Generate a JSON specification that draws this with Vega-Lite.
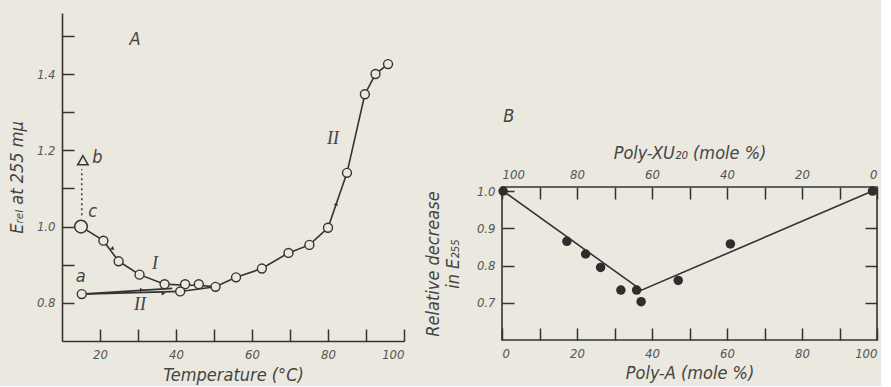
{
  "$schema": "https://vega.github.io/schema/vega-lite/v6.json",
  "background": "#eae8df",
  "padding": {"left": 8, "top": 13, "right": 2, "bottom": 2},
  "spacing": 18,
  "config": {
    "view": {"stroke": null},
    "font": "DejaVu Sans Condensed, Liberation Sans Narrow, DejaVu Sans",
    "axis": {
      "grid": false,
      "labelFontStyle": "italic",
      "titleFontStyle": "italic",
      "titleFontWeight": "normal",
      "labelColor": "#555555",
      "titleColor": "#444444",
      "domainColor": "#333333",
      "tickColor": "#333333",
      "domainWidth": 1.6,
      "tickWidth": 1.5,
      "tickSize": -12,
      "labelFontSize": 13,
      "titleFontSize": 18,
      "labelPadding": 20
    },
    "text": {"fontStyle": "italic", "color": "#444444"}
  },
  "hconcat": [
    {
      "width": 342,
      "height": 328,
      "encoding": {
        "x": {"field": "t", "type": "quantitative",
          "scale": {"domain": [10, 100], "nice": false, "zero": false},
          "axis": {"title": "Temperature (°C)", "values": [20, 30, 40, 50, 60, 70, 80, 90, 100],
            "labelExpr": "datum.value % 20 == 0 ? datum.label : ''", "labelPadding": 19, "titlePadding": 5}},
        "y": {"field": "e", "type": "quantitative",
          "scale": {"domain": [0.7, 1.56], "nice": false, "zero": false},
          "axis": {"title": "Eᵣₑₗ at 255 mμ", "values": [0.8, 0.9, 1.0, 1.1, 1.2, 1.3, 1.4, 1.5], "format": ".1f",
            "labelExpr": "indexof(['0.8','1.0','1.2','1.4'], datum.label) >= 0 ? datum.label : ''", "labelPadding": 19, "titlePadding": 10}}
      },
      "layer": [
        {
          "data": {"values": [
            {"s": "I", "k": 1, "t": 15.0, "e": 1.0},
            {"s": "I", "k": 2, "t": 20.9, "e": 0.963},
            {"s": "I", "k": 3, "t": 24.9, "e": 0.909},
            {"s": "I", "k": 4, "t": 30.4, "e": 0.874},
            {"s": "I", "k": 5, "t": 37.0, "e": 0.849},
            {"s": "I", "k": 6, "t": 42.4, "e": 0.846},
            {"s": "I", "k": 7, "t": 46.0, "e": 0.846},
            {"s": "I", "k": 8, "t": 50.4, "e": 0.842},
            {"s": "II", "k": 1, "t": 15.2, "e": 0.823},
            {"s": "II", "k": 2, "t": 41.1, "e": 0.830},
            {"s": "II", "k": 3, "t": 50.4, "e": 0.842},
            {"s": "II", "k": 4, "t": 55.8, "e": 0.867},
            {"s": "II", "k": 5, "t": 62.6, "e": 0.890},
            {"s": "II", "k": 6, "t": 69.6, "e": 0.931},
            {"s": "II", "k": 7, "t": 75.1, "e": 0.952},
            {"s": "II", "k": 8, "t": 80.0, "e": 0.997},
            {"s": "II", "k": 9, "t": 85.0, "e": 1.141},
            {"s": "II", "k": 10, "t": 89.7, "e": 1.347},
            {"s": "II", "k": 11, "t": 92.5, "e": 1.400},
            {"s": "II", "k": 12, "t": 95.8, "e": 1.426},
            {"s": "IIb", "k": 1, "t": 15.2, "e": 0.823},
            {"s": "IIb", "k": 2, "t": 39.0, "e": 0.838}
          ]},
          "mark": {"type": "line", "color": "#333333", "strokeWidth": 1.6},
          "encoding": {"detail": {"field": "s"}, "order": {"field": "k", "type": "quantitative"}}
        },
        {
          "data": {"values": [{"t": 15.2, "e": 1.03, "e2": 1.15}]},
          "mark": {"type": "rule", "color": "#444444", "strokeWidth": 1.6, "strokeDash": [2, 3]},
          "encoding": {"y2": {"field": "e2"}}
        },
        {
          "data": {"values": [
            {"t": 20.9, "e": 0.963}, {"t": 24.9, "e": 0.909}, {"t": 30.4, "e": 0.874},
            {"t": 37.0, "e": 0.849}, {"t": 42.4, "e": 0.849}, {"t": 46.0, "e": 0.849},
            {"t": 15.2, "e": 0.823}, {"t": 41.1, "e": 0.830}, {"t": 50.4, "e": 0.842},
            {"t": 55.8, "e": 0.867}, {"t": 62.6, "e": 0.890}, {"t": 69.6, "e": 0.931},
            {"t": 75.1, "e": 0.952}, {"t": 80.0, "e": 0.997}, {"t": 85.0, "e": 1.141},
            {"t": 89.7, "e": 1.347}, {"t": 92.5, "e": 1.400}, {"t": 95.8, "e": 1.426}
          ]},
          "mark": {"type": "point", "shape": "circle", "filled": true, "fill": "#eae8df", "stroke": "#333333", "strokeWidth": 1.4, "size": 80, "opacity": 1}
        },
        {
          "data": {"values": [{"t": 15.0, "e": 1.0}]},
          "mark": {"type": "point", "shape": "circle", "filled": true, "fill": "#eae8df", "stroke": "#333333", "strokeWidth": 1.5, "size": 160, "opacity": 1}
        },
        {
          "data": {"values": [{"t": 15.5, "e": 1.174}]},
          "mark": {"type": "point", "shape": "triangle-up", "filled": false, "stroke": "#333333", "strokeWidth": 1.5, "size": 110, "opacity": 1}
        },
        {
          "data": {"values": [{"t": 23.4, "e": 0.942}]},
          "mark": {"type": "point", "shape": "triangle-up", "filled": true, "color": "#333333", "size": 18, "angle": 130, "opacity": 1}
        },
        {
          "data": {"values": [{"t": 31.0, "e": 0.834}, {"t": 36.7, "e": 0.825}]},
          "mark": {"type": "point", "shape": "triangle-up", "filled": true, "color": "#333333", "size": 18, "angle": 90, "opacity": 1}
        },
        {
          "data": {"values": [{"t": 82.2, "e": 1.06}]},
          "mark": {"type": "point", "shape": "triangle-up", "filled": true, "color": "#333333", "size": 18, "angle": 15, "opacity": 1}
        },
        {
          "data": {"values": [
            {"t": 29.2, "e": 1.49, "label": "A"},
            {"t": 19.3, "e": 1.18, "label": "b"},
            {"t": 18.1, "e": 1.037, "label": "c"},
            {"t": 14.9, "e": 0.868, "label": "a"}
          ]},
          "mark": {"type": "text", "fontSize": 18, "align": "center", "baseline": "middle"},
          "encoding": {"text": {"field": "label"}}
        },
        {
          "data": {"values": [
            {"t": 34.5, "e": 0.902, "label": "I"},
            {"t": 30.5, "e": 0.795, "label": "II"},
            {"t": 81.3, "e": 1.23, "label": "II"}
          ]},
          "mark": {"type": "text", "font": "Liberation Serif", "fontSize": 18, "align": "center", "baseline": "middle"},
          "encoding": {"text": {"field": "label"}}
        }
      ]
    },
    {
      "spacing": 17,
      "vconcat": [
        {
          "width": 375,
          "height": 113,
          "view": {"fill": "#eae8df", "stroke": null},
          "data": {"values": [{"p": 0.3, "r": 0, "label": "B"}]},
          "mark": {"type": "text", "fontSize": 18, "align": "left", "baseline": "bottom"},
          "encoding": {
            "x": {"field": "p", "type": "quantitative", "scale": {"domain": [0, 100]}, "axis": null},
            "y": {"field": "r", "type": "quantitative", "scale": {"domain": [0, 1]}, "axis": null},
            "text": {"field": "label"}
          }
        },
        {
          "width": 375,
          "height": 153,
          "view": {"stroke": "#333333", "strokeWidth": 1.6},
          "resolve": {"axis": {"x": "independent", "y": "independent"}},
          "layer": [
            {
              "data": {"values": [
                {"p": 0.3, "r": 1.0, "k": 1},
                {"p": 37.2, "r": 0.734, "k": 2},
                {"p": 98.8, "r": 1.0, "k": 3}
              ]},
              "mark": {"type": "line", "color": "#333333", "strokeWidth": 1.6},
              "encoding": {
                "x": {"field": "p", "type": "quantitative", "scale": {"domain": [0, 100], "nice": false},
                  "axis": {"orient": "bottom", "title": "Poly-A (mole %)", "values": [0, 10, 20, 30, 40, 50, 60, 70, 80, 90, 100],
                    "labelExpr": "datum.value % 20 == 0 ? datum.label : ''", "domain": false, "labelPadding": 19, "titlePadding": 4}},
                "y": {"field": "r", "type": "quantitative", "scale": {"domain": [0.6, 1.011], "nice": false, "zero": false},
                  "axis": {"orient": "left", "title": ["Relative decrease", "in E₂₅₅"], "values": [0.7, 0.8, 0.9, 1.0], "format": ".1f",
                    "domain": false, "labelPadding": 19, "titlePadding": 14}},
                "order": {"field": "k", "type": "quantitative"}
              }
            },
            {
              "data": {"values": [
                {"p": 0.3, "r": 1.0}, {"p": 17.3, "r": 0.865}, {"p": 22.3, "r": 0.831},
                {"p": 26.3, "r": 0.795}, {"p": 31.7, "r": 0.734}, {"p": 35.9, "r": 0.734},
                {"p": 37.1, "r": 0.703}, {"p": 47.0, "r": 0.760}, {"p": 60.9, "r": 0.858},
                {"p": 98.8, "r": 1.0}
              ]},
              "mark": {"type": "point", "shape": "circle", "filled": true, "color": "#2e2e2e", "size": 90, "opacity": 1},
              "encoding": {
                "x": {"field": "p", "type": "quantitative",
                  "axis": {"orient": "top", "title": "Poly-XU₂₀ (mole %)", "values": [0, 10, 20, 30, 40, 50, 60, 70, 80, 90, 100],
                    "labelExpr": "datum.value % 20 == 0 ? format(100 - datum.value, 'd') : ''", "domain": false, "labelPadding": 18, "titlePadding": 6}},
                "y": {"field": "r", "type": "quantitative",
                  "axis": {"orient": "right", "title": null, "values": [0.7, 0.8, 0.9], "labels": false, "domain": false}}
              }
            }
          ]
        }
      ]
    }
  ]
}
